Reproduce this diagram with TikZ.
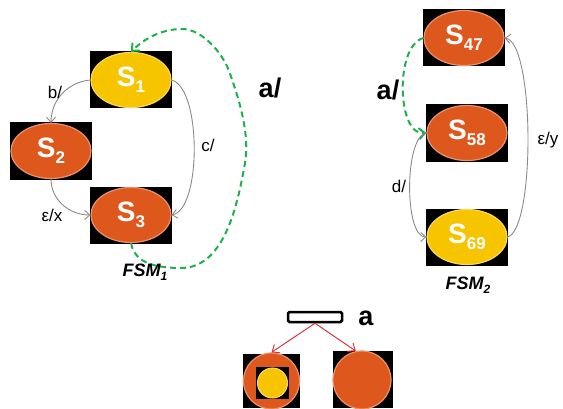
\documentclass[tikz,border=0pt]{standalone}
\usepackage{fontspec}
\setmainfont{Liberation Sans}
\usetikzlibrary{arrows.meta,shapes.geometric}

\definecolor{stateorange}{HTML}{DE581E}
\definecolor{stateyellow}{HTML}{F7C400}
\definecolor{epsgreen}{HTML}{1DB04E}
\definecolor{edgegray}{HTML}{8A8A8A}
\definecolor{splitred}{HTML}{D2363C}

% state label: bold S with a lowered index
\newcommand\stname[1]{{\fontsize{28}{28}\selectfont\bfseries S\raisebox{-6pt}{\fontsize{17}{17}\selectfont #1}}}

\tikzset{
  backbox/.style={fill=black, inner sep=0pt, minimum width=82pt, minimum height=57pt},
  stateoval/.style={ellipse, inner sep=0pt, minimum width=80pt, minimum height=55pt,
    fill=#1, draw=#1!65!white, line width=1.2pt, text=white},
  edgetip/.style={-{Straight Barb[length=5pt,width=9pt]}},
  grayedge/.style={edgetip, draw=edgegray, line width=0.9pt},
  greenedge/.style={-{Straight Barb[length=6pt,width=11pt,line width=2pt]}, draw=epsgreen,
    line width=2pt, dash pattern=on 6pt off 4pt},
  rededge/.style={-{Straight Barb[length=6pt,width=10pt]}, draw=splitred, line width=1pt},
  lbl/.style={font=\fontsize{17}{17}\selectfont, inner sep=1pt},
  biglbl/.style={font=\fontsize{27}{27}\selectfont\bfseries, inner sep=1pt},
  fsmlbl/.style={font=\fontsize{18}{18}\selectfont\bfseries\itshape, inner sep=1pt},
}

\begin{document}
\begin{tikzpicture}[x=1pt,y=1pt]
\useasboundingbox (0,0) rectangle (563,408);

% ---- FSM 1 ----
\node[backbox] (b1) at (131,328) {};
\node[stateoval=stateyellow] (s1) at (131,328) {\stname{1}};
\node[backbox] (b2) at (51,257) {};
\node[stateoval=stateorange] (s2) at (51,257) {\stname{2}};
\node[backbox] (b3) at (131,193) {};
\node[stateoval=stateorange] (s3) at (131,193) {\stname{3}};

\draw[grayedge] (s1.west) to[out=185,in=90] (s2.north);
\draw[grayedge] (s2.south) to[out=-90,in=180] (s3.west);
\draw[grayedge] (s1.east) .. controls +(30,-8) and +(30,6) .. (s3.east);

% the a/ loop from S3 round to S1
\coordinate (g1) at (181,140);
\coordinate (g2) at (245,245);
\coordinate (g3) at (229,337);
\coordinate (g4) at (182,379);
\draw[greenedge] (s3.south) to[out=-80,in=180] (g1) to[out=0,in=-100,looseness=0.9] (g2)
  to[out=80,in=-70,looseness=0.8] (g3) to[out=110,in=0,looseness=0.8] (g4)
  to[out=180,in=45,looseness=0.9] (s1.north);

\node[lbl] (lb) at (55,316) {b/};
\node[lbl] (lc) at (208,263) {c/};
\node[lbl] (lex) at (52,193) {ε/x};
\node[biglbl] (la1) at (270,320) {a/};
\node[fsmlbl] (f1) at (145,136) {FSM\raisebox{-4pt}{\fontsize{12}{12}\selectfont 1}};

% ---- FSM 2 ----
\node[backbox] (b47) at (464,370) {};
\node[stateoval=stateorange] (s47) at (464,370) {\stname{47}};
\node[backbox] (b58) at (467,275) {};
\node[stateoval=stateorange] (s58) at (467,275) {\stname{58}};
\node[backbox] (b69) at (467,171) {};
\node[stateoval=stateyellow] (s69) at (467,171) {\stname{69}};

\draw[greenedge] (s47.west) to[out=195,in=185,looseness=0.8] (s58.west);
\draw[grayedge] (s58.west) to[out=188,in=180,looseness=0.55] (s69.west);
\draw[grayedge] (s69.east) .. controls +(28,8) and +(30,-4) .. (s47.east);

\node[biglbl] (la2) at (388,318) {a/};
\node[lbl] (ld) at (399,222) {d/};
\node[lbl] (ley) at (548,268) {ε/y};
\node[fsmlbl] (f2) at (468,123) {FSM\raisebox{-4pt}{\fontsize{12}{12}\selectfont 2}};

% ---- split on a ----
\node[draw=black, fill=white, line width=2.5pt, rounded corners=1.5pt, inner sep=0pt,
  minimum width=54pt, minimum height=10pt] (bar) at (315,91) {};
\node[biglbl] (la3) at (366,90) {a};

\node[fill=black, inner sep=0pt, minimum width=57pt, minimum height=54pt] (lbox) at (271.5,27) {};
\node[circle, inner sep=0pt, minimum size=56pt, fill=stateorange, draw=stateorange!65!white,
  line width=1.2pt] (lcirc) at (271.5,27) {};
\node[fill=black, inner sep=0pt, minimum width=33pt, minimum height=32pt] (ibox) at (272.5,25) {};
\node[circle, inner sep=0pt, minimum size=30pt, fill=stateyellow, draw=stateyellow!60!white,
  line width=1pt] (icirc) at (272.5,25) {};

\node[fill=black, inner sep=0pt, minimum width=60pt, minimum height=57pt] (rbox) at (363,28.5) {};
\node[circle, inner sep=0pt, minimum size=58pt, fill=stateorange, draw=stateorange!65!white,
  line width=1.2pt] (rcirc) at (362,28) {};

\draw[rededge] (bar.south) -- (lcirc.north);
\draw[rededge] (bar.south) -- (rcirc.102);
\end{tikzpicture}
\end{document}
